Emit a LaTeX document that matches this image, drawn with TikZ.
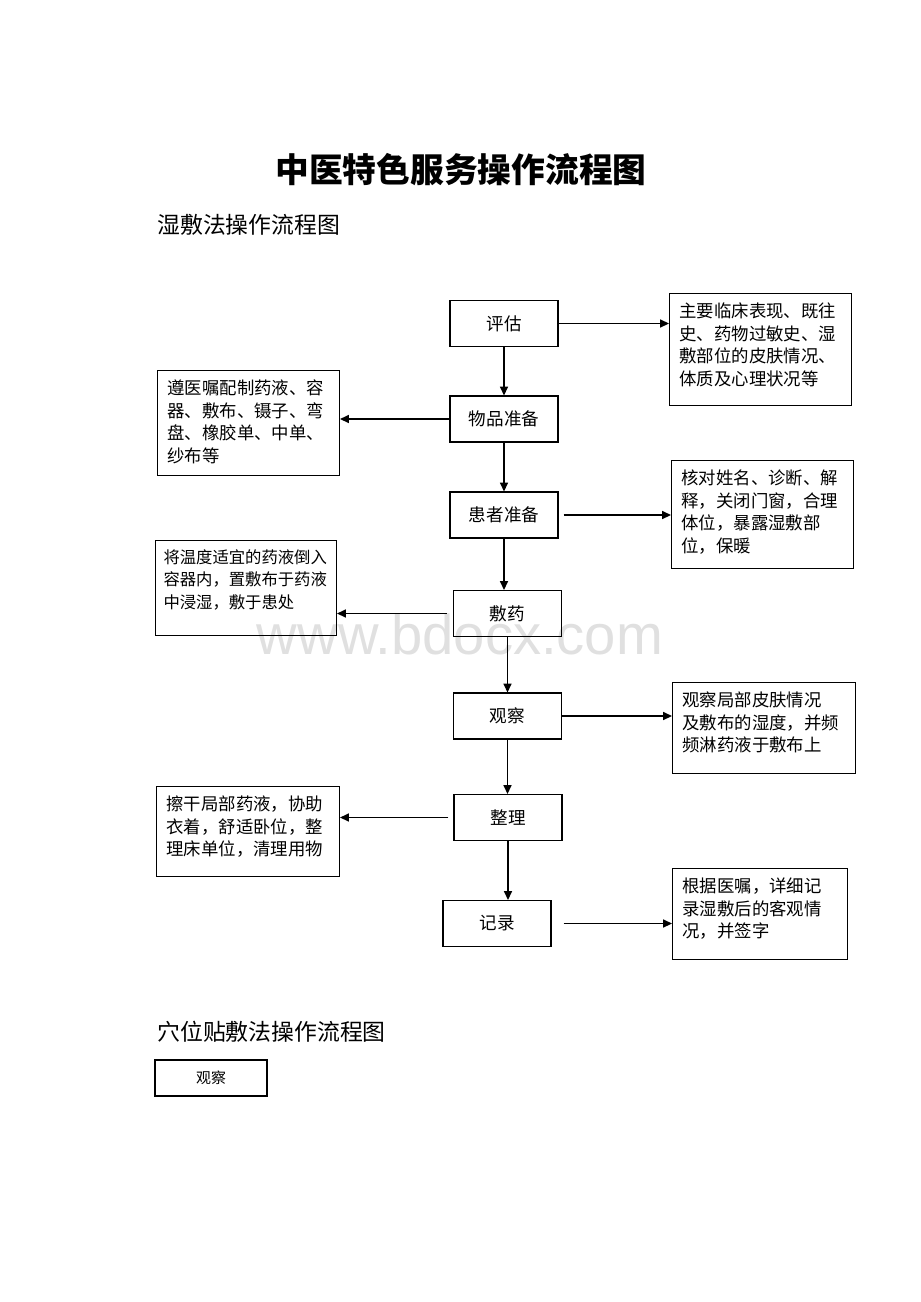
\documentclass[tikz,border=0pt]{standalone}
\usepackage{fontspec}
\usepackage{tikz}
\usetikzlibrary{arrows.meta}
\newfontfamily\cjk{Noto Sans CJK SC}
\newfontfamily\wmfont{Liberation Sans}
\newcommand{\sidetext}[3]{\parbox[c][#2][t]{#1}{\raggedright #3}}

\begin{document}
\begin{tikzpicture}[x=0.02cm, y=-0.02cm,
            stepbox/.style={draw=black, line width=0.6pt, minimum width=2.16cm, minimum height=0.92cm, inner sep=0pt, font=\cjk\fontsize{10pt}{12pt}\selectfont},
            notebox/.style={draw=black, line width=0.6pt, anchor=north west, inner xsep=0.2cm, inner ysep=0.18cm, font=\cjk\fontsize{9.9pt}{13pt}\selectfont},
            flow/.style={line width=0.85pt, -{Triangle[length=5pt, width=4.5pt]}}]
            \useasboundingbox (0,0) rectangle (920,1302);

            \node[text=black!12, font=\wmfont\fontsize{32pt}{32pt}\selectfont] (wm) at (460,634) {www.bdocx.com};

            \node[font=\cjk\bfseries\fontsize{19.2pt}{22pt}\selectfont] (title) at (461,170) {中医特色服务操作流程图};
            \node[anchor=west, inner sep=0pt, font=\cjk\fontsize{13pt}{15pt}\selectfont] (sub1) at (157,225) {湿敷法操作流程图};

            \node[stepbox] (pg) at (504,323.5) {评估};
            \node[stepbox] (wp) at (504,419) {物品准备};
            \node[stepbox] (hz) at (504,515) {患者准备};
            \node[stepbox] (fy) at (507.5,613.5) {敷药};
            \node[stepbox] (gc) at (507.5,716) {观察};
            \node[stepbox] (zl) at (508,817.5) {整理};
            \node[stepbox] (jl) at (497,923.5) {记录};

            \node[notebox] (r1) at (669,293) {\sidetext{3.24cm}{1.88cm}{主要临床表现、既往\\史、药物过敏史、湿\\敷部位的皮肤情况、\\体质及心理状况等}};
            \node[notebox] (l1) at (157,370) {\sidetext{3.24cm}{1.74cm}{遵医嘱配制药液、容\\器、敷布、镊子、弯\\盘、橡胶单、中单、\\纱布等}};
            \node[notebox] (r2) at (671,460) {\sidetext{3.24cm}{1.8cm}{核对姓名、诊断、解\\释，关闭门窗，合理\\体位，暴露湿敷部\\位，保暖}};
            \node[notebox, inner xsep=0.16cm, font=\cjk\fontsize{9.3pt}{12.8pt}\selectfont] (l2) at (155,540) {\sidetext{3.3cm}{1.54cm}{将温度适宜的药液倒入\\容器内，置敷布于药液\\中浸湿，敷于患处}};
            \node[notebox] (r3) at (672,682) {\sidetext{3.26cm}{1.46cm}{观察局部皮肤情况\\及敷布的湿度，并频\\频淋药液于敷布上}};
            \node[notebox] (l3) at (156,786) {\sidetext{3.26cm}{1.44cm}{擦干局部药液，协助\\衣着，舒适卧位，整\\理床单位，清理用物}};
            \node[notebox] (r4) at (672,868) {\sidetext{3.1cm}{1.46cm}{根据医嘱，详细记\\录湿敷后的客观情\\况，并签字}};

            \draw[flow] (pg) -- (wp);
            \draw[flow] (wp) -- (hz);
            \draw[flow] (hz.south) -- (hz.south |- fy.north);
            \draw[flow] (fy) -- (gc);
            \draw[flow] (gc.south) -- (gc.south |- zl.north);
            \draw[flow] (zl.south) -- (zl.south |- jl.north);

            \draw[flow] (pg.east) -- (pg.east -| r1.west);
            \draw[flow] (wp.west) -- (wp.west -| l1.east);
            \draw[flow, shorten <=0.1cm] (hz.east) -- (hz.east -| r2.west);
            \draw[flow, shorten <=0.12cm] (fy.west) -- (fy.west -| l2.east);
            \draw[flow] (gc.east) -- (gc.east -| r3.west);
            \draw[flow, shorten <=0.1cm] (zl.west) -- (zl.west -| l3.east);
            \draw[flow, shorten <=0.24cm] (jl.east) -- (jl.east -| r4.west);

            \node[anchor=west, inner sep=0pt, font=\cjk\fontsize{13pt}{15pt}\selectfont] (sub2) at (157,1032) {穴位贴敷法操作流程图};
            \node[stepbox, minimum width=2.24cm, minimum height=0.72cm, font=\cjk\fontsize{8.5pt}{10pt}\selectfont] (gc2) at (211,1078) {观察};
        \end{tikzpicture}
\end{document}
